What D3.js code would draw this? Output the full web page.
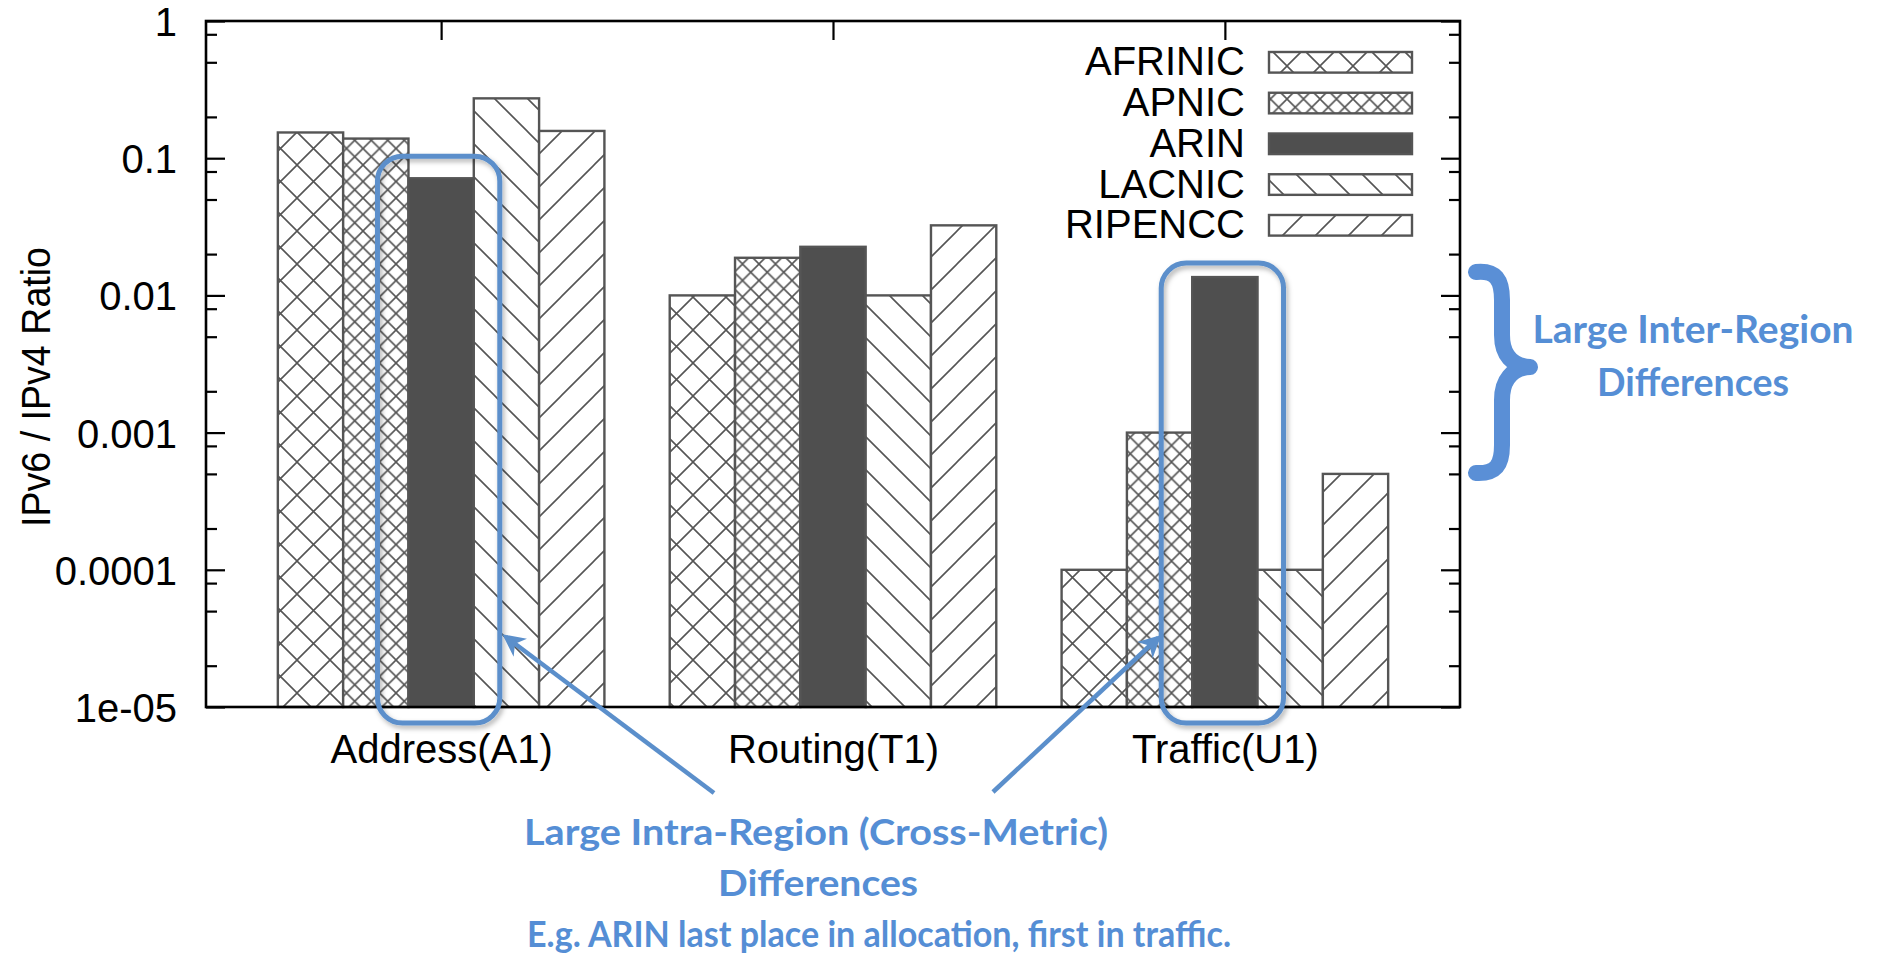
<!DOCTYPE html>
<html>
<head>
<meta charset="utf-8">
<script src="https://cdn.jsdelivr.net/npm/d3@7"></script>
<style>
  body { margin: 0; background: #fff; }
  svg { display: block; }
  .gp text { font-family: "Liberation Sans", Arial, Helvetica, sans-serif; font-size: 40px; fill: #000; }
  .note { font-family: Lato, "Open Sans", sans-serif; font-weight: 700; fill: #558ed5; }
</style>
</head>
<body>
<svg id="chart" width="1879" height="956"></svg>
<script>
// data (log scale)
const metrics = ["Address(A1)", "Routing(T1)", "Traffic(U1)"];
const registries = ["AFRINIC", "APNIC", "ARIN", "LACNIC", "RIPENCC"];
const afrinic = [0.154, 0.0100, 0.0001];
const apnic   = [0.139, 0.0188, 0.0010];
const arin    = [0.0714, 0.0226, 0.0136];
const lacnic  = [0.273, 0.0100, 0.0001];
const ripencc = [0.158, 0.0324, 0.0005];
const yTicks = [1, 0.1, 0.01, 0.001, 0.0001, 0.00001];
const yTickLabels = ["1", "0.1", "0.01", "0.001", "0.0001", "1e-05"];
const yLabel = "IPv6 / IPv4 Ratio";
const sideNote = ["Large Inter-Region", "Differences"];
const bottomNote = ["Large Intra-Region (Cross-Metric)", "Differences", "E.g. ARIN last place in allocation, first in traffic."];

const series = [afrinic, apnic, arin, lacnic, ripencc];
const fills = ["url(#pAfr)", "url(#pApn)", "#4f4f4f", "url(#pLac)", "url(#pRip)"];

const svg = d3.select("#chart");
const blue = "#5b8fcb";
const barStroke = "#555";

const plotL = 206, plotR = 1460, plotT = 21, plotB = 707;
const x = d3.scaleLinear().domain([-0.6, 2.6]).range([plotL, plotR]);
const y = d3.scaleLog().domain([1e-5, 1]).range([plotB, plotT]);
const boxW = 1 / 6;

// patterns
const defs = svg.append("defs");
function hatch(id, s, dirs){
  const p = defs.append("pattern").attr("id", id)
    .attr("patternUnits", "userSpaceOnUse")
    .attr("width", s).attr("height", s);
  p.append("rect").attr("width", s).attr("height", s).attr("fill", "#fff");
  let d = "";
  if(dirs.includes("/")) d += `M-1,1 l2,-2 M0,${s} l${s},${-s} M${s-1},${s+1} l2,-2 `;
  if(dirs.includes("\\")) d += `M-1,${s-1} l2,2 M0,0 l${s},${s} M${s-1},-1 l2,2`;
  p.append("path").attr("d", d).attr("stroke", "#555").attr("stroke-width", 1.6).attr("fill", "none");
}
hatch("pAfr", 33, "/\\");
hatch("pApn", 16.5, "/\\");
hatch("pLac", 33, "\\");
hatch("pRip", 33, "/");

const shadow = defs.append("filter").attr("id", "shadow")
  .attr("x", "-20%").attr("y", "-20%").attr("width", "140%").attr("height", "140%");
shadow.append("feDropShadow").attr("dx", 2).attr("dy", 3)
  .attr("stdDeviation", 2.5).attr("flood-color", "#000").attr("flood-opacity", 0.3);

defs.append("marker").attr("id", "head")
  .attr("viewBox", "0 0 10 10").attr("refX", 8).attr("refY", 5)
  .attr("markerWidth", 5).attr("markerHeight", 5)
  .attr("markerUnits", "strokeWidth").attr("orient", "auto")
  .append("path").attr("d", "M0,0 L10,5 L0,10 L3,5 Z").attr("fill", blue);

const gp = svg.append("g").attr("class", "gp");

// y axis major + minor ticks, left and mirrored right
const minor = [];
for(let n = -5; n < 0; n++) [2, 5, 8].forEach(k => minor.push(k * Math.pow(10, n)));

const yAxisL = gp.append("g").attr("transform", `translate(${plotL},0)`)
  .call(d3.axisLeft(y).tickValues(yTicks).tickSizeInner(-19).tickSizeOuter(0).tickPadding(29)
    .tickFormat((d, i) => yTickLabels[i]));
gp.append("g").attr("transform", `translate(${plotL},0)`)
  .call(d3.axisLeft(y).tickValues(minor).tickSizeInner(-11).tickSizeOuter(0).tickFormat(""));
gp.append("g").attr("transform", `translate(${plotR},0)`)
  .call(d3.axisRight(y).tickValues(yTicks).tickSizeInner(-19).tickSizeOuter(0).tickFormat(""));
gp.append("g").attr("transform", `translate(${plotR},0)`)
  .call(d3.axisRight(y).tickValues(minor).tickSizeInner(-11).tickSizeOuter(0).tickFormat(""));

// x ticks at group centres, bottom and top
const xAxisB = gp.append("g").attr("transform", `translate(0,${plotB})`)
  .call(d3.axisBottom(x).tickValues([0, 1, 2]).tickSizeInner(-19).tickSizeOuter(0)
    .tickFormat((d, i) => metrics[i]));
gp.append("g").attr("transform", `translate(0,${plotT})`)
  .call(d3.axisTop(x).tickValues([0, 1, 2]).tickSizeInner(-19).tickSizeOuter(0).tickFormat(""));

gp.selectAll(".tick line").attr("stroke", "#000").attr("stroke-width", 2.2);
gp.selectAll(".domain").remove();
gp.selectAll("g").attr("font-size", null).attr("font-family", null);
yAxisL.selectAll(".tick text").attr("dy", "0.36em");
xAxisB.selectAll(".tick text").attr("y", 56).attr("dy", null);

// bars
const bars = svg.append("g");
metrics.forEach((m, i) => {
  series.forEach((s, j) => {
    const x0 = i + (j - 2.5) * boxW;
    bars.append("rect")
      .attr("x", x(x0)).attr("width", x(x0 + boxW) - x(x0))
      .attr("y", y(s[i])).attr("height", plotB - y(s[i]))
      .attr("fill", fills[j]).attr("stroke", barStroke).attr("stroke-width", 2.4);
  });
});

// border
svg.append("rect").attr("x", plotL).attr("y", plotT)
  .attr("width", plotR - plotL).attr("height", plotB - plotT)
  .attr("fill", "none").attr("stroke", "#000").attr("stroke-width", 2.6);

// y title
gp.append("text").attr("transform", "translate(50,387) rotate(-90)")
  .attr("text-anchor", "middle").attr("textLength", 280).attr("lengthAdjust", "spacingAndGlyphs")
  .text(yLabel);

// legend
const legend = gp.append("g");
registries.forEach((r, j) => {
  const cy = 62.3 + j * 40.75;
  legend.append("text").attr("x", 1245).attr("y", cy + 13).attr("text-anchor", "end").text(r);
  legend.append("rect").attr("x", 1269).attr("y", cy - 10.3).attr("width", 143).attr("height", 20.6)
    .attr("fill", fills[j]).attr("stroke", barStroke).attr("stroke-width", 2.4);
});

// annotation: boxes round the ARIN bars
const notes = svg.append("g");
[[0, 22], [2, 14]].forEach(([i, pad]) => {
  const x0 = i - 0.5 * boxW;
  const bx = x(x0) - 31, bw = x(x0 + boxW) - x(x0) + 57;
  const by = y(arin[i]) - pad;
  notes.append("rect").attr("x", bx).attr("y", by).attr("width", bw).attr("height", 723 - by)
    .attr("rx", 25).attr("fill", "none").attr("stroke", blue).attr("stroke-width", 5)
    .attr("filter", "url(#shadow)");
});

// arrows
[[714, 793, 506, 637], [993, 792, 1158, 638]].forEach(a => {
  notes.append("line").attr("x1", a[0]).attr("y1", a[1]).attr("x2", a[2]).attr("y2", a[3])
    .attr("stroke", blue).attr("stroke-width", 4.5).attr("marker-end", "url(#head)");
});

// brace
notes.append("path")
  .attr("d", "M1476,272 C1496,270 1502,280 1502,300 L1502,335 C1502,355 1512,366 1530,367 " +
             "C1512,368 1502,380 1502,400 L1502,445 C1502,465 1496,474 1476,473")
  .attr("fill", "none").attr("stroke", "#5a8fd6").attr("stroke-width", 16)
  .attr("stroke-linecap", "round").attr("stroke-linejoin", "round");

// annotation texts
const sideW = [321, 192];
sideNote.forEach((t, k) => {
  notes.append("text").attr("class", "note").attr("x", 1693).attr("y", 343 + k * 53)
    .attr("text-anchor", "middle").attr("font-size", 39)
    .attr("textLength", sideW[k]).attr("lengthAdjust", "spacingAndGlyphs").text(t);
});
const botX = [816, 818, 879], botW = [584, 200, 704];
bottomNote.forEach((t, k) => {
  notes.append("text").attr("class", "note").attr("x", botX[k]).attr("y", 845 + k * 51)
    .attr("text-anchor", "middle").attr("font-size", 36)
    .attr("textLength", botW[k]).attr("lengthAdjust", "spacingAndGlyphs").text(t);
});
</script>
</body>
</html>
